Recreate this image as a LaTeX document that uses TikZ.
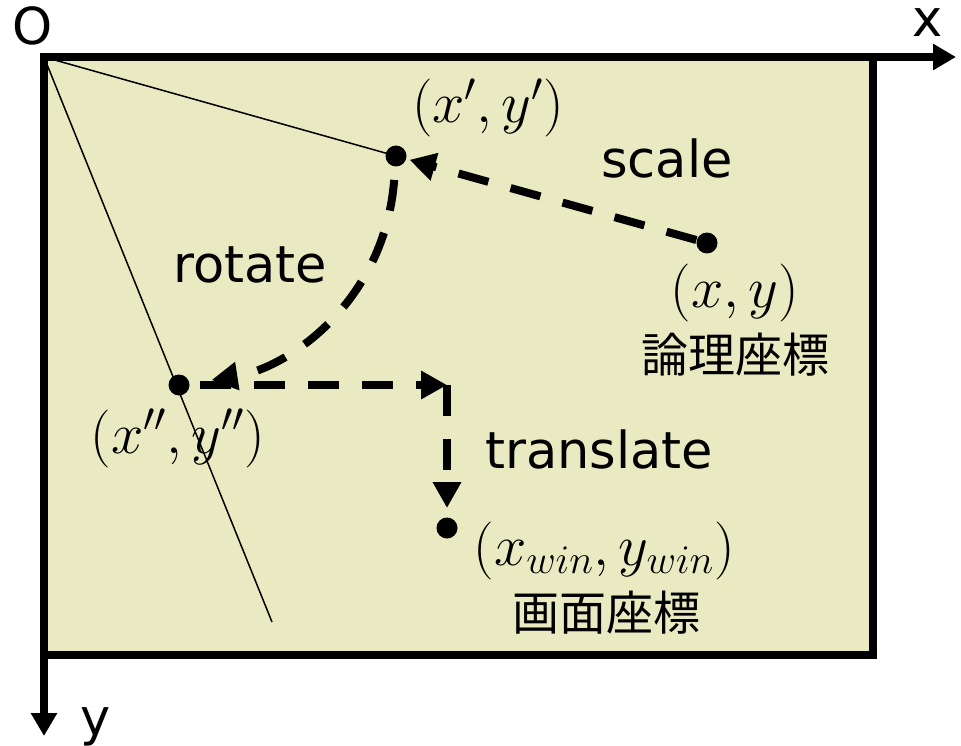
\RequirePackage{fix-cm}
\documentclass[tikz,border=0pt]{standalone}
\usepackage[no-math]{fontspec}
\setmainfont{DejaVu Sans}
\newfontfamily\cjk{Noto Sans CJK JP}
\usetikzlibrary{arrows.meta}
\definecolor{panel}{RGB}{233,234,194}
\begin{document}
\begin{tikzpicture}[x=1pt,y=-1pt,
  dot/.style={circle,fill=black,inner sep=0pt,minimum size=21pt},
  lbl/.style={font=\fontsize{51}{60}\selectfont,inner sep=0pt},
  mlbl/.style={font=\fontsize{58}{64}\selectfont,inner sep=0pt},
  jlbl/.style={font=\fontsize{47}{56}\selectfont\cjk,inner sep=0pt},
  dflow/.style={line width=8pt,dash pattern=on 31pt off 23pt,-{Triangle[length=26pt,width=27pt]}},
  axis/.style={line width=8pt,-{Triangle[length=23pt,width=25pt]}},
  thinline/.style={line width=1.5pt}]
\useasboundingbox (0,0) rectangle (961,746);
% panel
\fill[panel] (44,57) rectangle (873,655);
\coordinate (O) at (44,57);
\coordinate (xend) at (956,57);
\coordinate (yend) at (44,736);
\coordinate (lend) at (272,622);
% points
\node[dot] (p1) at (396,156) {};
\node[dot] (p0) at (707,243) {};
\node[dot] (p2) at (179,385) {};
\node[dot] (p3) at (447,528) {};
% labels
\node[mlbl,anchor=base] (l1) at (488,123) {$(x',y')$};
\node[lbl,anchor=base] (ls) at (667,178) {scale};
\node[lbl,anchor=base] (lr) at (250,282) {rotate};
\node[mlbl,anchor=base] (l0) at (735,307) {$(x,y)$};
\node[jlbl] (j0) at (735,355) {論理座標};
\node[mlbl,anchor=base] (l2) at (178,453) {$(x'',y'')$};
\node[lbl,anchor=base] (lt) at (599,468) {translate};
\node[mlbl,anchor=base] (l3) at (604,565) {$(x_{win},y_{win})$};
\node[jlbl] (j3) at (606,613) {画面座標};
\node[lbl,anchor=base] (lo) at (33,45) {O};
\node[lbl,anchor=base] (lx) at (928,37) {x};
\node[lbl,anchor=base] (ly) at (96,735) {y};
% thin lines
\draw[thinline] (O) -- (p1.center);
\draw[thinline] (O) -- (lend);
% frame and axes
\draw[line width=8pt] (44,57) rectangle (873,655);
\draw[axis] (O) -- (xend);
\draw[axis] (O) -- (yend);
% flows
\draw[dflow,shorten <=11pt,shorten >=14pt] (p0.center) -- (p1.center);
\draw[dflow,shorten <=24pt,shorten >=33pt] (p1.center) .. controls (385,300) and (290,368) .. (p2.center);
\draw[dflow,shorten <=21pt] (p2.center) -- (p3 |- p2);
\draw[dflow,shorten >=20pt] (p3 |- p2) -- (p3.center);
\end{tikzpicture}
\end{document}
